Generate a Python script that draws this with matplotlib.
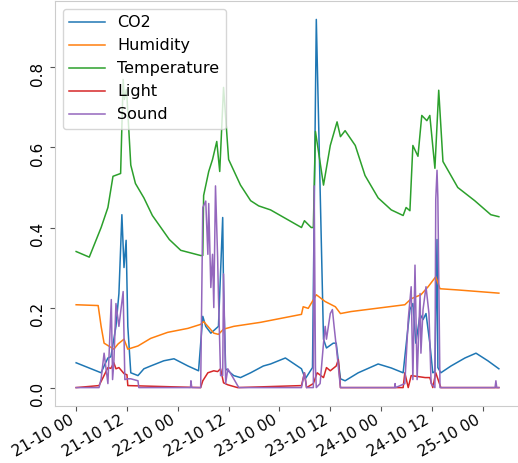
import matplotlib
matplotlib.use("Agg")
import matplotlib.pyplot as plt
import matplotlib.dates as mdates
import pandas as pd

# hours since 21-10 00:00 and normalised sensor values
co2_t = [0, 5.9, 6.6, 7.5, 8.2, 9.4, 10.1, 10.8, 11.3, 11.8, 12.2, 12.9, 14.6, 16.0, 17.6,
         20.7, 23.1, 26.4, 28.9, 29.9, 30.6, 31.8, 33.6, 34.6, 34.8, 35.3, 37.2, 38.8, 41.2,
         44.2, 45.9, 49.4, 53.2, 54.1, 55.8, 56.7, 58.4, 59.1, 60.7, 61.4, 62.4, 63.5, 66.6,
         71.3, 74.4, 77.2, 78.8, 79.5, 80.2, 81.2, 81.9, 82.6, 83.5, 84.2, 84.7, 85.2, 85.4,
         86.1, 88.5, 91.8, 94.4, 97.2, 99.8]
co2_v = [0.062, 0.037, 0.054, 0.074, 0.077, 0.153, 0.235, 0.432, 0.30, 0.368, 0.153, 0.037,
         0.03, 0.047, 0.054, 0.067, 0.072, 0.054, 0.042, 0.178, 0.153, 0.136, 0.153, 0.425,
         0.244, 0.047, 0.03, 0.025, 0.037, 0.054, 0.059, 0.074, 0.047, 0.022, 0.05, 0.92,
         0.121, 0.099, 0.111, 0.111, 0.022, 0.017, 0.037, 0.059, 0.049, 0.037, 0.195, 0.21,
         0.111, 0.183, 0.17, 0.185, 0.111, 0.037, 0.04, 0.37, 0.05, 0.037, 0.054, 0.074,
         0.086, 0.067, 0.047]

hum_t = [0, 5.2, 5.9, 6.6, 8.9, 9.9, 11.3, 12.2, 14.6, 17.6, 21.6, 26.4, 29.4, 30.1, 31.1,
         32.5, 33.6, 34.8, 37.2, 43.5, 53.2, 53.6, 54.8, 56.7, 58.8, 61.2, 62.4, 64.9, 77.6,
         79.1, 81.4, 83.1, 84.9, 85.9, 90.1, 99.8]
hum_v = [0.207, 0.205, 0.153, 0.111, 0.096, 0.109, 0.121, 0.096, 0.104, 0.123, 0.138, 0.148,
         0.158, 0.165, 0.153, 0.136, 0.133, 0.146, 0.153, 0.163, 0.183, 0.202, 0.198, 0.232,
         0.215, 0.202, 0.185, 0.19, 0.207, 0.222, 0.232, 0.252, 0.277, 0.247, 0.244, 0.236]

temp_t = [0, 3.1, 5.9, 7.5, 8.7, 10.5, 11.1, 11.4, 11.9, 12.9, 14.0, 16.0, 18.0, 20.0, 22.0,
          24.7, 29.4, 29.9, 30.1, 31.3, 32.2, 33.2, 33.9, 34.8, 36.0, 38.8, 41.2, 43.1, 45.9,
          53.2, 53.9, 55.5, 56.0, 56.5, 58.4, 60.0, 61.6, 62.4, 63.5, 65.9, 68.2, 71.3, 74.4,
          77.2, 77.9, 78.8, 79.5, 80.7, 81.6, 82.8, 83.5, 84.7, 85.6, 86.6, 90.1, 94.1, 97.9,
          99.8]
temp_v = [0.34, 0.326, 0.40, 0.45, 0.528, 0.535, 0.77, 0.72, 0.745, 0.556, 0.51, 0.474, 0.43,
          0.40, 0.37, 0.343, 0.33, 0.33, 0.48, 0.54, 0.57, 0.615, 0.54, 0.75, 0.57, 0.506,
          0.467, 0.454, 0.444, 0.40, 0.417, 0.40, 0.40, 0.64, 0.506, 0.605, 0.664, 0.627,
          0.642, 0.605, 0.53, 0.474, 0.444, 0.43, 0.45, 0.442, 0.605, 0.578, 0.68, 0.667,
          0.68, 0.548, 0.743, 0.565, 0.50, 0.467, 0.432, 0.427]

light_t = [0, 5.4, 6.35, 7.5, 8.2, 8.9, 9.4, 10.1, 11.3, 12.0, 12.2, 29.4, 29.9, 31.1, 32.5,
           33.4, 34.1, 34.8, 35.8, 38.1, 53.2, 53.9, 54.4, 56.0, 56.9, 58.4, 59.1, 60.0, 61.4,
           61.9, 62.4, 77.2, 77.6, 78.4, 79.1, 82.4, 83.5, 84.2, 84.9, 86.1, 99.8]
light_v = [0, 0.005, 0.025, 0.05, 0.048, 0.062, 0.047, 0.05, 0.035, 0.032, 0.005, 0, 0.017,
           0.037, 0.042, 0.04, 0.047, 0.012, 0.007, 0, 0.005, 0.037, 0, 0.01, 0.037, 0.025,
           0.05, 0.042, 0.054, 0.07, 0, 0, 0.037, 0, 0.03, 0.025, 0.025, 0, 0.037, 0, 0]

sound_t = [0, 5.4, 5.9, 6.6, 7.5, 8.3, 8.6, 8.9, 9.4, 10.1, 11.1, 11.5, 12.2, 12.9, 14.6,
           14.8, 27.0, 27.1, 27.3, 29.4, 29.9, 30.6, 31.1, 31.3, 31.8, 32.2, 32.5, 32.9, 33.4,
           33.6, 34.1, 34.6, 34.8, 35.3, 35.8, 37.2, 38.4, 53.2, 53.9, 54.4, 56.0, 56.2, 56.5,
           56.7, 57.6, 58.4, 58.8, 59.1, 60.0, 60.5, 60.9, 61.4, 62.4, 75.2, 75.3, 75.4, 77.6,
           78.4, 79.1, 79.5, 80.0, 80.5, 81.2, 81.4, 81.9, 82.6, 83.3, 83.8, 84.7, 84.9, 85.2,
           85.4, 85.9, 98.9, 99.1, 99.3, 99.8]
sound_v = [0, 0, 0.022, 0.086, 0.01, 0.22, 0.02, 0.062, 0.21, 0.153, 0.24, 0.02, 0.022, 0.022,
           0.017, 0, 0, 0.017, 0, 0, 0.45, 0.466, 0.333, 0.46, 0.25, 0.333, 0.20, 0.504, 0.326,
           0.227, 0.03, 0.03, 0.284, 0.01, 0.047, 0.022, 0, 0, 0.037, 0, 0, 0.504, 0.05, 0,
           0.01, 0.111, 0.153, 0.121, 0.185, 0.195, 0.153, 0.104, 0, 0, 0.01, 0, 0.01, 0.17,
           0.252, 0.02, 0.306, 0.02, 0.235, 0.086, 0.195, 0.252, 0.185, 0.01, 0, 0.47, 0.543,
           0.474, 0, 0, 0.017, 0, 0]

start = pd.Timestamp("2019-10-21 00:00")


def to_time(hours):
    return start + pd.to_timedelta(hours, unit="h")


series = [
    ("CO2", co2_t, co2_v),
    ("Humidity", hum_t, hum_v),
    ("Temperature", temp_t, temp_v),
    ("Light", light_t, light_v),
    ("Sound", sound_t, sound_v),
]

fig = plt.figure(figsize=(5.18, 4.63), dpi=100)
ax = fig.add_axes([55 / 518, 57 / 463, 465 / 518, 405 / 463])

for name, t, v in series:
    ax.plot(to_time(t), v, label=name, linewidth=1.1)

ax.xaxis.set_major_locator(mdates.HourLocator(byhour=[0, 12]))
ax.xaxis.set_major_formatter(mdates.DateFormatter("%d-%m %H"))
ax.set_yticks([0.0, 0.2, 0.4, 0.6, 0.8])
ax.set_yticklabels(["0.0", "0.2", "0.4", "0.6", "0.8"], rotation=90)
for lbl in ax.get_xticklabels():
    lbl.set_rotation(30)
    lbl.set_ha("right")

ax.tick_params(labelsize=11, length=3.5, color="#555555", direction="out")
ax.tick_params(axis="x", pad=1)
for s in ax.spines.values():
    s.set_color("#cccccc")

ax.legend(loc="upper left", fontsize=11.5, handlelength=2.2)

fig.savefig("out.png", dpi=100)
